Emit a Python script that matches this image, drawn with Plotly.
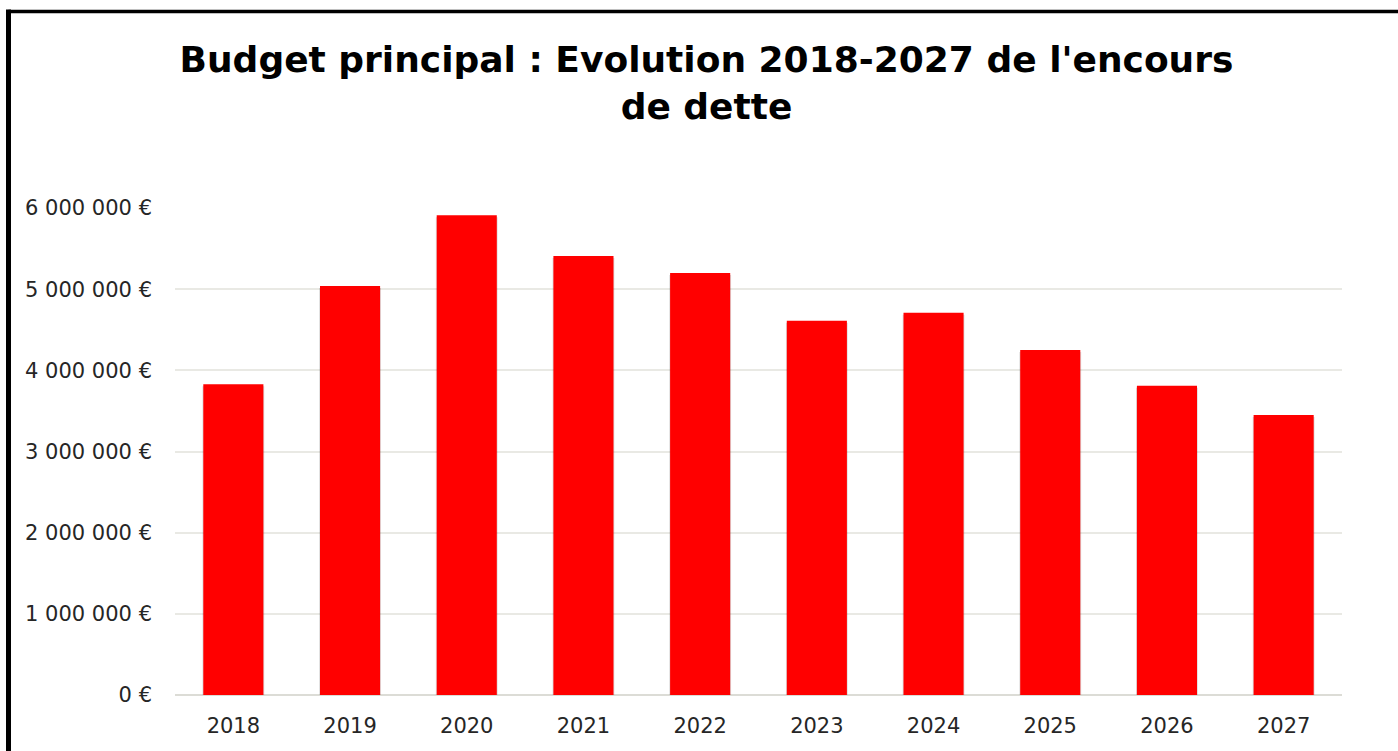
import plotly.graph_objects as go

years = ["2018", "2019", "2020", "2021", "2022", "2023", "2024", "2025", "2026", "2027"]
encours = [3830000, 5040000, 5910000, 5410000, 5200000, 4610000, 4710000, 4250000, 3810000, 3450000]
tick_values = [0, 1000000, 2000000, 3000000, 4000000, 5000000, 6000000]
tick_labels = ["0 €", "1 000 000 €", "2 000 000 €", "3 000 000 €", "4 000 000 €", "5 000 000 €", "6 000 000 €"]

W, H = 1398, 751
L, R, T, B = 175, 56, 208, 56
pw, ph = W - L - R, H - T - B

fig = go.Figure()
# soft shadow behind bars
fig.add_trace(go.Bar(x=years, y=encours, base=-25000, width=0.53,
                     marker=dict(color="rgba(0,0,0,0.13)", line=dict(width=0)),
                     hoverinfo="skip"))
fig.add_trace(go.Bar(x=years, y=encours, width=0.515,
                     marker=dict(color="#ff0000", line=dict(width=0)),
                     hoverinfo="x+y"))

def px_to_paper_x(px):
    return (px - L) / pw

def px_to_paper_y(py):
    return (H - B - py) / ph

bx = px_to_paper_x(8.5)
by = px_to_paper_y(11.5)
fig.add_shape(type="line", xref="paper", yref="paper", x0=bx, x1=bx, y0=-0.3, y1=by + 0.004,
              line=dict(color="black", width=5))
fig.add_shape(type="line", xref="paper", yref="paper", x0=bx, x1=1.2, y0=by, y1=by,
              line=dict(color="black", width=3.5))

fig.update_layout(
    width=W, height=H,
    margin=dict(l=L, r=R, t=T, b=B, autoexpand=False),
    paper_bgcolor="white", plot_bgcolor="white",
    barmode="overlay",
    showlegend=False,
    font=dict(family="DejaVu Sans, sans-serif", color="#262626"),
    title=dict(text="<b>Budget principal : Evolution 2018-2027 de l'encours<br>de dette</b>",
               x=706.5 / W, xref="container", xanchor="center",
               y=1 - 72 / H, yref="container", yanchor="middle",
               font=dict(size=36, color="black", family="DejaVu Sans, sans-serif")),
    xaxis=dict(showgrid=False, showline=False, zeroline=False, ticks="",
               tickfont=dict(size=21), ticklabelstandoff=16),
    yaxis=dict(range=[0, 6000000], tickvals=tick_values, ticktext=tick_labels,
               showgrid=True, gridcolor="#e9e9e4", gridwidth=1.5,
               zeroline=True, zerolinecolor="#dcdcd6", zerolinewidth=1.5,
               showline=False, ticks="", tickfont=dict(size=21), ticklabelstandoff=22),
)

fig.write_html("out.html", config={"displayModeBar": False},
               post_script="document.body.style.margin='0';")
